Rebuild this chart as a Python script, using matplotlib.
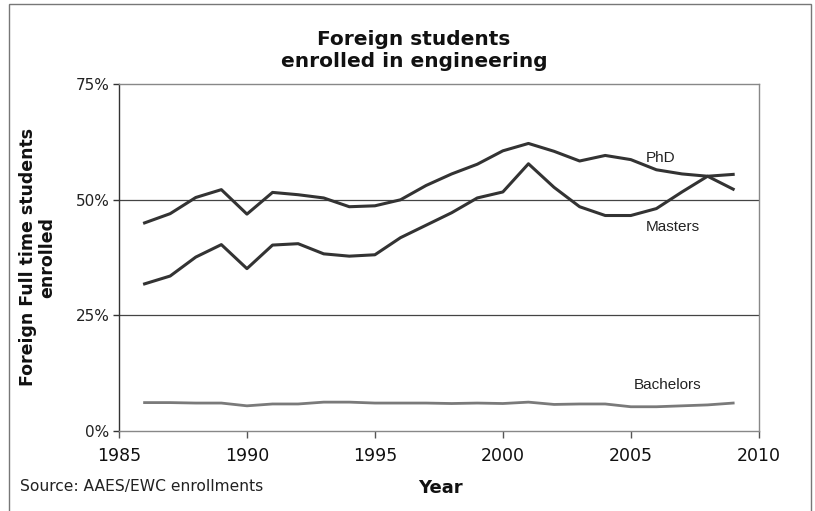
import numpy as np
import matplotlib
matplotlib.use("Agg")
import matplotlib.pyplot as plt
from matplotlib.patches import Rectangle

years = np.arange(1986, 2010)
phd = [45.0, 47.0, 50.5, 52.2, 46.9, 51.6, 51.1, 50.4, 48.5, 48.7, 50.0, 53.1,
       55.6, 57.7, 60.6, 62.2, 60.5, 58.4, 59.6, 58.7, 56.5, 55.6, 55.1, 55.5]
masters = [31.8, 33.5, 37.6, 40.3, 35.1, 40.2, 40.5, 38.3, 37.8, 38.1, 41.8, 44.5,
           47.2, 50.4, 51.7, 57.8, 52.7, 48.5, 46.6, 46.6, 48.1, 51.7, 55.1, 52.3]
bachelors = [6.1, 6.1, 6.0, 6.0, 5.4, 5.8, 5.8, 6.2, 6.2, 6.0, 6.0, 6.0,
             5.9, 6.0, 5.9, 6.2, 5.7, 5.8, 5.8, 5.2, 5.2, 5.4, 5.6, 6.0]

xticks = [1985, 1990, 1995, 2000, 2005, 2010]
yticks = [0, 25, 50, 75]
ytick_labels = ["0%", "25%", "50%", "75%"]

fig = plt.figure(figsize=(8.15, 5.11), dpi=100)
ax = fig.add_axes([0.146, 0.157, 0.785, 0.678])

# thin frame around the whole figure
fig.patches.append(Rectangle((9 / 815, -0.05), 802 / 815, 1.05 - 4 / 511,
                             transform=fig.transFigure, fill=False,
                             edgecolor="#777777", linewidth=1.0))

for y in (25, 50):
    ax.axhline(y, color="#444444", linewidth=0.9, zorder=1)

ax.plot(years, phd, color="#333333", linewidth=2.2, zorder=3)
ax.plot(years, masters, color="#333333", linewidth=2.2, zorder=3)
ax.plot(years, bachelors, color="#7a7a7a", linewidth=2.0, zorder=3)

lab_font = dict(family="Liberation Sans", fontsize=11, color="#222222")
ax.text(2005.6, 59.0, "PhD", ha="left", va="center", **lab_font)
ax.text(2005.6, 44.1, "Masters", ha="left", va="center", **lab_font)
ax.text(2005.1, 9.9, "Bachelors", ha="left", va="center", **lab_font)

ax.set_xlim(1985, 2010)
ax.set_ylim(0, 75)
ax.set_xticks(xticks)
ax.set_yticks(yticks)
ax.set_yticklabels(ytick_labels)
ax.tick_params(axis="x", labelsize=12.5, length=5, width=1, color="#555555",
               pad=7, labelcolor="#111111")
ax.tick_params(axis="y", labelsize=11, length=4, width=1, color="#333333",
               pad=3, labelcolor="#222222")

for side in ("top", "right", "bottom"):
    ax.spines[side].set_color("#888888")
    ax.spines[side].set_linewidth(1.0)
ax.spines["left"].set_color("#333333")
ax.spines["left"].set_linewidth(1.0)

fig.text(0.508, 0.902, "Foreign students\nenrolled in engineering",
         ha="center", va="center", fontsize=14.5, fontweight="bold",
         linespacing=1.2, color="#111111")
fig.text(0.046, 0.497, "Foreign Full time students\nenrolled", rotation=90,
         ha="center", va="center", fontsize=12.5, fontweight="bold",
         linespacing=1.1, color="#111111")
fig.text(0.54, 0.045, "Year", ha="center", va="center", fontsize=13,
         fontweight="bold", color="#111111")
fig.text(0.025, 0.048, "Source: AAES/EWC enrollments", ha="left", va="center",
         fontsize=11.2, color="#222222")

fig.savefig("out.png", dpi=100)
